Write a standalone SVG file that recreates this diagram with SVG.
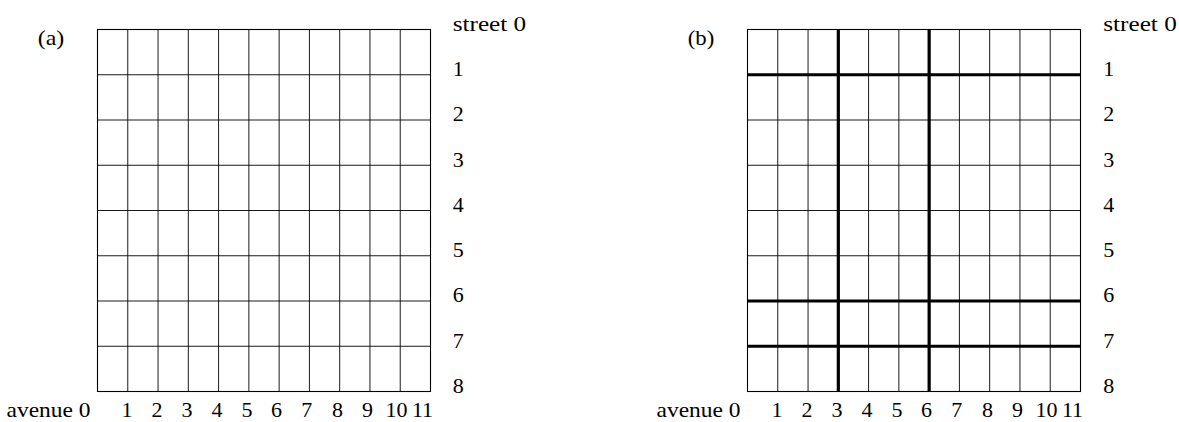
<svg xmlns="http://www.w3.org/2000/svg" width="1179" height="422" viewBox="0 0 1179 422">
<style>
text { font-family: "Liberation Serif", "DejaVu Serif", serif; font-size: 22px; fill: #000; }
.mid { text-anchor: middle; }
.thin { fill: none; stroke: #000; stroke-width: 0.9; }
.border { fill: none; stroke: #000; stroke-width: 1.1; }
.thick { fill: none; stroke: #000; stroke-width: 3.2; }
</style>
<rect width="1179" height="422" fill="#fff"/>

<g id="panel-a">
  <text x="37.7" y="45" textLength="26.6" lengthAdjust="spacingAndGlyphs">(a)</text>
  <g id="grid-a">
    <path class="thin" d="M127.77 29.5V391.5M158.05 29.5V391.5M188.32 29.5V391.5M218.59 29.5V391.5M248.86 29.5V391.5M279.14 29.5V391.5M309.41 29.5V391.5M339.68 29.5V391.5M369.95 29.5V391.5M400.23 29.5V391.5
    M97.5 74.75H430.5M97.5 120H430.5M97.5 165.25H430.5M97.5 210.5H430.5M97.5 255.75H430.5M97.5 301H430.5M97.5 346.25H430.5"/>
    <rect class="border" x="97.5" y="29.5" width="333" height="362"/>
  </g>
  <g id="streets-a">
    <text x="452.7" y="31" textLength="73.5" lengthAdjust="spacingAndGlyphs">street 0</text>
    <text x="452.7" y="76">1</text>
    <text x="452.7" y="121.3">2</text>
    <text x="452.7" y="166.5">3</text>
    <text x="452.7" y="211.8">4</text>
    <text x="452.7" y="257">5</text>
    <text x="452.7" y="302.3">6</text>
    <text x="452.7" y="347.5">7</text>
    <text x="452.7" y="393">8</text>
  </g>
  <g id="avenues-a">
    <text x="6.5" y="417" textLength="84" lengthAdjust="spacingAndGlyphs">avenue 0</text>
    <text class="mid" x="126.9" y="417">1</text>
    <text class="mid" x="156.9" y="417">2</text>
    <text class="mid" x="187" y="417">3</text>
    <text class="mid" x="216.9" y="417">4</text>
    <text class="mid" x="246.9" y="417">5</text>
    <text class="mid" x="276.5" y="417">6</text>
    <text class="mid" x="306.8" y="417">7</text>
    <text class="mid" x="337.5" y="417">8</text>
    <text class="mid" x="367.5" y="417">9</text>
    <text class="mid" x="396.5" y="417">10</text>
    <text class="mid" x="422.5" y="417">11</text>
  </g>
</g>

<g id="panel-b">
  <text x="687.7" y="45" textLength="26.6" lengthAdjust="spacingAndGlyphs">(b)</text>
  <g id="grid-b">
    <path class="thin" d="M777.77 29.5V391.5M808.05 29.5V391.5M838.32 29.5V391.5M868.59 29.5V391.5M898.86 29.5V391.5M929.14 29.5V391.5M959.41 29.5V391.5M989.68 29.5V391.5M1019.95 29.5V391.5M1050.23 29.5V391.5
    M747.5 74.75H1080.5M747.5 120H1080.5M747.5 165.25H1080.5M747.5 210.5H1080.5M747.5 255.75H1080.5M747.5 301H1080.5M747.5 346.25H1080.5"/>
    <rect class="border" x="747.5" y="29.5" width="333" height="362"/>
  </g>
  <g id="connectors-b">
    <path class="thick" d="M838.32 29.5V391.5M929.14 29.5V391.5M747.5 74.75H1080.5M747.5 301H1080.5M747.5 346.25H1080.5"/>
  </g>
  <g id="streets-b">
    <text x="1103.3" y="31" textLength="73.5" lengthAdjust="spacingAndGlyphs">street 0</text>
    <text x="1103.3" y="76">1</text>
    <text x="1103.3" y="121.3">2</text>
    <text x="1103.3" y="166.5">3</text>
    <text x="1103.3" y="211.8">4</text>
    <text x="1103.3" y="257">5</text>
    <text x="1103.3" y="302.3">6</text>
    <text x="1103.3" y="347.5">7</text>
    <text x="1103.3" y="393">8</text>
  </g>
  <g id="avenues-b">
    <text x="656.5" y="417" textLength="84" lengthAdjust="spacingAndGlyphs">avenue 0</text>
    <text class="mid" x="776.9" y="417">1</text>
    <text class="mid" x="806.9" y="417">2</text>
    <text class="mid" x="837" y="417">3</text>
    <text class="mid" x="866.9" y="417">4</text>
    <text class="mid" x="896.9" y="417">5</text>
    <text class="mid" x="926.5" y="417">6</text>
    <text class="mid" x="956.8" y="417">7</text>
    <text class="mid" x="987.5" y="417">8</text>
    <text class="mid" x="1017.5" y="417">9</text>
    <text class="mid" x="1046.5" y="417">10</text>
    <text class="mid" x="1072.5" y="417">11</text>
  </g>
</g>
</svg>
